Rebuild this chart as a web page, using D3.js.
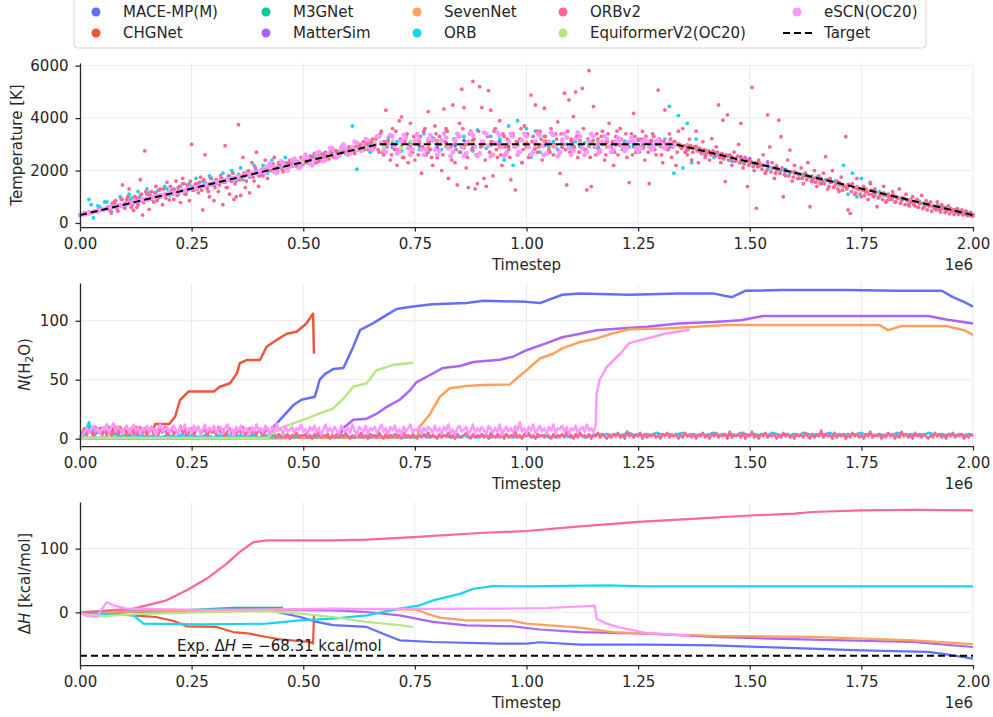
<!DOCTYPE html>
<html><head><meta charset="utf-8">
<script src="https://cdn.jsdelivr.net/npm/d3@7"></script>
<style>body{margin:0;background:#fff} svg text{font-family:"DejaVu Sans",sans-serif}</style>
</head><body><svg id="c" width="993" height="717"></svg>
<script>
// ---------------- DATA ----------------
const models = ["MACE-MP(M)","CHGNet","M3GNet","MatterSim","SevenNet","ORB","ORBv2","EquiformerV2(OC20)","eSCN(OC20)"];
const colors = ["#636EFA","#EF553B","#00CC96","#AB63FA","#FFA15A","#19D3F3","#FF6692","#B6E880","#FF97FF"];
const xTicks = [0, 0.25, 0.5, 0.75, 1.0, 1.25, 1.5, 1.75, 2.0];   // ×1e6 timesteps
const tempTicks = [0, 2000, 4000, 6000];
const nTicks = [0, 50, 100];
const hTicks = [0, 100];
const expDeltaH = -68.31;
const targetTemp = [[0, 300], [0.6667, 3000], [1.3333, 3000], [2.0, 300]];

// temperature samples (K); each set: model, first sample time, sampling interval (×1e6 timesteps)
const tempMACE = [310,400,430,570,600,730,760,900,920,1060, 1080,1230,1240,1390,1400,1550,1570,1710,1730,1870,
 1890,2040,2050,2200,2210,2360,2380,2520,2540,2690, 2700,2850,2860,3050,2950,3100,2920,3080,2940,3120,
 2900,3060,2950,3150,2880,3050,2970,3120,2910,3070, 2930,3100,2960,3040,2890,3130,2950,3060,2900,3090,
 2980,3110,2920,3050,2960,3120,2900,3010,2930,2840, 2760,2620,2600,2450,2520,2360,2290,2200,2110,2040,
 1950,1800,1790,1640,1630,1480,1470,1320,1300,1160, 1140,990,980,830,820,670,650,510,500,350, 310];
const tempCHGNet = [320,360,490,520,650,680,820,840,980,1000, 1140,1160,1300,1320,1470,1480,1630,1640,1790,1800, 1950,1970,2110,2120,2280,2290,2440];
const tempM3GNet = [280,410,440,580,600,740,770,900,930,1060, 1090,1220,1250,1380,1410,1540,1570,1700,1730,1860, 1890,2030,2050,2190];
const tempMatterSim = [290,370,480,530,640,690,800,850,970,1010, 1130,1170,1300,1330,1460,1500,1620,1660,1780,1820,
 1950,1980,2110,2140,2270,2300,2430,2460,2590,2620, 2760,2790,2920,2950,3080,2880,3150,2900,3100,2850,
 3130,2920,3080,2870,3160,2940,3060,2890,3140,2960, 3050,2880,3120,2940,3090,2870,3150,2920,3060,2900,
 3110,2950,3080,2900,3150,2930,3060,2980,2860,2920, 2700,2680,2540,2520,2400,2450,2310,2330,2180,1960,
 1960,1860,1730,1700,1580,1540,1400,1380,1240,1220, 1080,1060,920,900,760,740,600,580,440,420, 290];
const tempSevenNet = [300,390,450,560,610,720,780,880,940,1050, 1100,1210,1260,1370,1420,1530,1580,1700,1740,1860,
 1900,2020,2070,2180,2230,2350,2390,2510,2560,2670, 2720,2830,2900,2990,3070,2930,3110,2960,3040,2890,
 3090,2950,3130,2910,3060,2940,3100,2880,3050,2970, 3080,2920,3140,2950,3030,2900,3120,2960,3070,2910,
 3050,2940,3130,2890,3070,2960,3100,2950,2990,2880, 2730,2640,2580,2480,2420,2320,2270,2160,2120,1990,
 1940,1820,1770,1670,1610,1500,1450,1340,1290,1180, 1130,1020,970,860,810,700,660,540,490,370, 300];
const tempORB = [400,900,200,650,500,800,450,700,1000,600, 1100,750,1200,850,1300,950,1150,1000,1400,1050,
 1300,1100,1500,1250,1400,1700,1350,1550,1800,1450, 1500,1900,1700,2000,1600,2100,1850,1750,2200,1800,
 2200,1900,2400,2050,2300,2500,2150,2350,2250,2450, 2400,2550,2300,2650,2500,2700,2600,2550,2800,2700,
 3700,2050,2850,3200,2700,3000,3300,2800,3200,2900, 3100,2750,3300,2900,3150,2800,3400,2700,3250,3000,
 2800,3500,2900,3200,2700,3300,3000,2750,3550,3100, 2850,3300,3000,3200,2400,3700,2200,3900,2300,3600,
 2500,3500,2700,3300,2900,3100,2800,3200,3000,2950, 3100,2900,3050,3000,3150,2850,3000,3100,2900,3050,
 2950,3100,2900,3000,3150,2850,3050,2950,3100,3000, 3200,4450,1900,4100,2100,3800,2300,3200,2700,2600,
 2700,2500,2600,2450,2550,2350,2400,2300,2350,2250, 2250,2150,2200,2050,2100,2000,2000,1950,1900,1900,
 1850,1800,1800,1700,1750,1650,1650,1550,1600,1500, 2200,1100,1900,1000,1700,1200,1550,1050,1200,1100,
 1000,1050,950,900,900,850,800,800,750,700, 650,650,600,550,550,500,450,400,380,320];
const tempORBextra = [350,700,450,600,800,500,750,650,900,700, 950,800,1050,900,1150,1000,1250,1050,1300,1150,
 1200,1400,1250,1500,1350,1450,1600,1400,1700,1500, 1650,1550,1800,1700,1850,1650,1950,1800,2000,1900,
 2000,2150,1950,2200,2100,2300,2150,2350,2250,2400, 2350,2500,2450,2550,2500,2650,2600,2700,2650,2750,
 2800,2850,2900,2950,2900];
const tempORBv2 = [520,610,380,700,850,450,640,1450,560,900, 1300,600,480,980,700,1650,300,2750,1100,520,
 1200,800,1400,950,1300,700,1050,1550,880,1250, 900,1600,1350,780,1700,1100,1450,850,3000,1250,
 1500,1150,1750,500,2600,1300,1000,1450,850,1650, 1200,1800,700,2950,1350,1100,1600,900,1000,3750,
 1050,2500,1350,1900,1150,2300,1600,2700,1400,2000, 1800,2400,1700,2200,2000,2500,1900,2300,2100,1950,
 2250,2050,2400,2200,2450,2150,2300,2500,2250,2400, 2300,2550,2400,2650,2450,2350,2600,2500,2700,2450,
 2600,2800,2500,2750,2650,2900,2700,2850,2600,2800, 2850,2650,3000,2900,2750,3100,2950,2800,3050,3200,
 2900,3300,2700,3500,2600,4300,3100,2400,3600,2800, 2200,3900,4050,2500,3300,2300,3800,2700,2400,3400,
 3200,1900,3500,2600,4250,2800,2200,3700,2500,3300, 2000,4350,3600,1700,2900,4500,2300,1450,3800,5100,
 4400,2100,1350,3500,5400,1300,1500,5200,4400,1700, 1400,5050,4300,1800,3600,2500,3900,2200,3300,2700,
 2800,1650,3400,1260,2600,3200,2300,3700,2900,2500, 4880,3300,4500,2700,3500,2400,4380,3100,2800,3600,
 2600,3400,3860,1890,2900,4950,1450,4690,3200,4060, 5000,2500,3300,5130,2800,1260,5810,1390,4440,2600,
 3200,2700,3500,2400,3100,3800,2900,2200,3300,2600, 3600,2800,3000,2500,1540,3400,4180,2700,3200,2900,
 3500,2400,3100,1500,2800,3300,2600,5070,3000,2300, 4310,2800,3400,2500,3100,2200,3500,2900,3600,2700,
 2600,3200,2400,2900,3500,2300,2800,3100,2500,2700, 2400,3220,2700,2900,4500,2300,3920,1580,4120,2600,
 2200,2700,2400,3000,3800,2100,2500,1390,2300,5170, 2000,560,2400,2200,2600,1900,4120,2900,2300,1700,
 2100,3920,3290,1000,1800,2400,2780,1600,2200,1900, 1700,2100,1500,1900,2300,620,1600,2000,1400,1800,
 1500,1900,2530,1300,1700,2000,1400,1600,1200,1750, 1400,3290,500,370,1500,1100,1700,1300,1000,1400,
 1200,900,1500,1100,1300,620,1000,1130,1400,800, 1100,900,1200,800,1000,1300,850,950,1100,700,
 800,1000,650,900,750,1050,600,850,700,800, 650,550,800,500,700,600,450,650,550,500,
 450,550,400,500,350,450,300,400,280];
const tempORBv2extra = [600,480,750,820,550,700,900,650,780,1000, 850,700,1000,600,950,1100,780,1200,880,1050,
 1000,1150,850,1250,1050,1300,950,1150,1400,1100, 1250,1050,1400,1200,1500,1100,1350,1600,1250,1450,
 1300,1550,1250,1650,1400,1200,1700,1500,1350,1600, 1450,1700,1550,1350,1800,1600,1900,1500,1750,1650,
 1700,1900,1600,2000,1850,1750,2100,1900,1800,2050, 2050,1900,2150,2000,2250,2100,1950,2200,2050,2300,
 2150,2300,2250,2400,2200,2350,2150,2450,2300,2400, 2350,2500,2450,2300,2600,2500,2400,2650,2550,2450,
 2650,2550,2750,2700,2600,2850,2750,2650,2900,2800, 2750,2900,2850,3000,2950,2800,3050,2900,3100,3000,
 3200,2800,3400,2700,3100,2900,3300,2600,3000,3500, 2800,3200,2500,3100,3400,2900,2700,3300,3000,2600,
 3300,2900,3600,2700,3100,2500,3200,3400,2800,3000, 2600,3100,3500,2900,2400,3200,2800,3300,2700,3600,
 3000,2500,3400,2800,3200,2600,3500,2900,3100,2400, 3300,2700,3100,3500,2800,3000,2600,3400,2900,3200,
 2500,3300,2900,3100,2700,3600,2800,3000,3400,2600, 3100,2800,3500,2900,3200,2600,3300,3000,2700,3400,
 2900,3200,2600,3400,3000,2800,3500,2700,3100,2900, 3300,2700,3000,3600,2800,3200,2500,3100,2900,3400,
 2800,3300,3000,2600,3400,2900,3100,2700,3500,3000, 3200,2800,3400,2900,3100,2600,3300,3000,2700,3200,
 2900,3300,2700,3100,3400,2800,3000,3200,2600,3100, 3000,2800,3200,2900,3100,2700,3000,2850,2950,2750,
 2800,2950,2700,2900,2750,2850,2650,2800,2600,2750, 2600,2750,2550,2700,2500,2650,2450,2600,2400,2550,
 2450,2350,2550,2300,2450,2250,2400,2200,2350,2150, 2300,2150,2250,2050,2200,2000,2150,1950,2100,1900,
 2050,1900,2100,1850,2000,1800,1950,1750,1900,1700, 1850,1700,1800,1650,1750,1600,1700,1550,1650,1500,
 1600,1500,1650,1400,1550,1350,1500,1300,1450,1250, 1400,1300,1450,1200,1350,1150,1300,1100,1250,1050,
 1200,1100,1250,1000,1150,950,1100,900,1050,850, 1000,900,1050,800,950,750,900,700,850,650,
 800,700,850,600,750,550,700,500,650,450, 600,500,650,420,550,400,500,350,450,330,
 420,330,400,300,350,280,320,260];
const tempEquiformer = [300,380,470,540,630,700,790,860,950,1020, 1110,1200,1270,1360,1430,1520,1590,1680,1750,1850,
 1910,2010,2070,2170,2230,2330,2390,2490,2550,2650, 2720,2820,2880,3100,2900,3150,2880,3120];
const tempESCN = [300,330,330,370,390,390,430,450,460,490, 510,520,560,560,600,610,630,660,670,690,
 700,740,740,790,790,830,840,860,900,880, 920,930,960,990,990,1030,1040,1050,1090,1080,
 1120,1140,1160,1170,1200,1210,1240,1250,1270,1300, 1310,1340,1370,1380,1400,1420,1440,1470,1480,1500,
 1520,1550,1560,1590,1600,1620,1650,1660,1690,1700, 1720,1760,1780,1770,1820,1850,1830,1880,1920,1890,
 1930,1990,2000,1900,2150,2250,2150,1950,1900,2100, 2350,2300,2100,2000,2150,2400,2450,2300,2100,2150,
 2450,2600,2500,2250,2200,2400,2650,2700,2500,2350, 2400,2650,2850,2850,2600,2500,2600,2850,3000,2850,
 2650,2650,2900,3100,3050,2800,2750,2950,3200,3150, 2850,2800,3000,3300,3300,3050,2750,2700,3000,3350,
 3300,2950,2650,2750,3100,3350,3250,2850,2600,2800, 3150,3350,3200,2800,2600,2800,3200,3350,3150,2800,
 2600,2750,3150,3400,3250,2850,2550,2700,3150,3400, 3300,2900,2550,2650,3100,3450,3350,2900,2550,2650,
 3100,3450,3400,2950,2550,2600,3050,3450,3350,2900, 2550,2650,3100,3400,3300,2900,2600,2700,3150,3400,
 3300,2900,2600,2700,3100,3400,3350,2950,2600,2650, 3100,3450,3350,2900,2550,2700,3150,3400,3250,2850,
 2600,2750,3200,3450,3300,2850,2600,2700,3100,3400, 3300,2950,2650,2750,3100,3300,3200,2900,2700,2800,
 3100,3250,3150,2900,2750,2850,3100,3250,3100,2850, 2750,2850,3100,3200,3100,2900,2800,2900,3100,3150,
 3050,2900,2850,2950,3050,3000,2950];
const tempSets = [
  ["MACE-MP(M)", 0, 0.02, tempMACE], ["CHGNet", 0, 0.02, tempCHGNet], ["M3GNet", 0, 0.02, tempM3GNet],
  ["MatterSim", 0, 0.02, tempMatterSim], ["SevenNet", 0, 0.02, tempSevenNet],
  ["ORB", 0.01, 0.01, tempORB], ["ORB", 0.015, 0.01, tempORBextra],
  ["ORBv2", 0.06, 0.005, tempORBv2], ["ORBv2", 0.0625, 0.005, tempORBv2extra],
  ["EquiformerV2(OC20)", 0, 0.02, tempEquiformer], ["eSCN(OC20)", 0, 0.005, tempESCN]
];

// N(H2O): fluctuating stretches sampled at fixed interval, then [t, N] pairs
const nNoiseStep = {"CHGNet": 0.005, "ORB": 0.01, "ORBv2": 0.005, "eSCN(OC20)": 0.005};
const nNoiseCHGNet = [0,5,9,3,8,6,10,4,7,9,5,8,3,10,6,9,4,7,10,5,8,6,3,9,7,10,4,8,6,9,5,7,10,8];
const nNoiseORB = [0,3,14,2,6,5,12,3,4,2,3,1,4,2,3,1,2,3,1,2, 3,1,2,4,1,3,2,1,3,2,1,3,2,4,1,2,3,1,2,3,
 1,2,3,1,2,1,3,2,1,2,3,1,2,1,3,2,1,2,1,3, 2,1,3,1,2,1,2,3,1,2,1,3,2,1,2,1,3,2,1,2,
 1,3,2,1,2,1,3,1,2,1,2,3,1,2,1,3,2,1,2,1, 3,2,1,2,3,1,2,1,3,2,1,2,3,1,2,3,4,3,4,3,
 4,3,4,5,3,4,3,4,3,5,4,3,4,3,4,5,3,4,3,4, 3,4,5,3,4,3,4,3,5,4,3,4,3,4,3,5,4,3,4,3,
 4,3,5,4,3,4,3,4,5,3,4,3,4,3,4,5,3,4,3,4, 3,4,3,5,4,3,4,3,4,3,5,4,3,4,3,4,3,4,3,4, 3];
const nNoiseORBv2 = [0,4,8,3,9,6,2,10,5,7,3,9,4,8,2,6,10,3,7,5, 8,2,6,9,4,7,3,10,5,8,2,6,9,4,7,3,8,5,10,2,
 6,9,3,7,4,11,5,8,2,6,9,3,7,10,4,6,8,2,9,5, 7,3,10,5,8,2,6,9,4,7,3,8,5,10,2,6,9,4,7,3,
 8,5,2,6,9,3,7,4,1,4,2,3,1,4,0,3,2,5,1,3, 2,4,1,3,0,4,2,5,1,3,2,4,0,3,1,4,2,3,1,5,
 2,0,3,1,4,2,5,1,3,0,4,2,3,1,5,2,0,4,1,3, 2,4,1,3,0,5,2,3,1,4,2,0,3,1,4,2,5,1,3,2,
 0,4,1,3,2,5,1,3,0,4,2,1,3,5,2,0,4,1,3,2, 4,1,3,0,5,2,1,4,2,3,0,4,1,3,2,6,1,3,0,4,
 2,5,1,3,0,4,2,3,1,5,2,0,4,1,3,2,4,1,6,2, 3,0,4,1,5,2,3,1,4,0,3,2,5,1,4,2,0,3,1,4,
 2,5,1,3,0,6,2,4,1,3,2,5,0,4,1,3,2,4,1,3, 0,4,2,5,1,3,2,4,0,3,1,5,2,3,1,4,0,3,2,5,
 1,3,0,4,2,5,1,3,2,4,0,6,1,3,2,4,1,5,0,3, 2,6,1,3,0,4,2,5,1,3,2,4,0,3,1,5,2,4,1,3,
 0,4,2,3,1,5,2,0,4,1,3,2,7,1,4,2,3,0,5,1, 3,2,4,0,3,1,5,2,4,1,3,0,4,2,6,1,3,2,4,0,
 3,1,5,2,4,0,3,1,6,2,4,1,3,0,5,2,3,1,4,2, 0,3,1,5,2,4,1,3,0,4,2,5,1,3,2,4,0,3,1,4, 2];
const nNoiseESCN = [0,3,6,9,5,8,11,6,9,4,10,7,12,5,9,13,6,10,8,4, 9,11,5,8,12,6,10,4,9,7,11,5,10,8,3,9,12,6,8,10,
 5,9,11,7,4,10,8,12,6,9,5,11,7,10,3,8,12,6,9,7, 11,5,8,10,4,9,12,6,8,3,10,7,11,5,9,8,4,10,6,12,
 7,9,5,11,8,4,10,6,13,7,9,3,11,6,8,10,5,9,7,12, 6,8,4,10,7,11,5,9,3,8,12,6,9,5,10,7,4,11,8,6,
 9,5,12,7,3,10,8,6,11,4,9,7,10,5,8,12,6,9,4,10, 7,11,5,8,3,10,6,9,12,5,8,7,11,4,9,6,10,8,5,11,
 6,9,4,10,7,12,5,8,3,9,11,6,8,10,4,7,12,5,9,6, 10,7,4,11,8,5,9,6,12,3,8,10,6,9,5,11,7,14,6,9,
 4,10,7,12,5,8,11,6,9,4,10,7,12,5,9,8,11,6,10,4, 9,7,11,5,8,10,6,12,7,9,5];
const nMACE = [[0,0],[0.02,0.5],[0.43,1],[0.433,10],[0.455,19],[0.478,28.5],[0.496,33],[0.526,35.6],[0.537,50],[0.549,55],[0.567,59],[0.59,60],[0.612,78],[0.627,92],[0.657,98],[0.687,105],[0.709,110],[0.746,112],[0.79,114],[0.866,115],[0.903,117],[1.0,116],[1.03,115],[1.08,122],[1.12,123],[1.23,122],[1.34,123],[1.42,123],[1.46,120],[1.49,125.4],[1.57,126],[1.72,126],[1.83,125.4],[1.93,125.4],[1.955,120],[1.98,116],[2.0,112]];
const nCHGNet = [[0.168,12.4],[0.2,12.4],[0.213,18.6],[0.224,32.8],[0.243,40],[0.3,40],[0.313,44],[0.336,47],[0.351,55],[0.358,64],[0.373,66.7],[0.403,66.7],[0.418,78],[0.44,83.6],[0.463,89],[0.485,90.7],[0.507,97.7],[0.522,106],[0.524,72]];
const nM3GNet = [[0,0],[0.02,0.5],[0.46,0.5]];
const nMatterSim = [[0,0],[0.58,1],[0.59,9],[0.612,16],[0.642,17],[0.664,21],[0.687,27],[0.716,33],[0.739,41],[0.754,48],[0.784,54],[0.813,60],[0.851,61.6],[0.881,65],[0.94,67],[0.97,69.5],[1.0,75],[1.045,81],[1.08,86],[1.12,89],[1.157,92],[1.21,93.5],[1.27,95],[1.34,97.7],[1.42,99],[1.48,100.5],[1.53,104],[1.64,104],[1.79,104],[1.9,104],[1.94,101],[2.0,97.7]];
const nSevenNet = [[0,0],[0.755,1],[0.761,10],[0.784,21],[0.806,35.6],[0.828,42.7],[0.866,44.6],[0.903,45.5],[0.963,46],[0.978,51],[1.0,58],[1.03,68],[1.06,72],[1.08,76.6],[1.12,82],[1.157,85],[1.19,89],[1.23,92.7],[1.31,93.5],[1.38,95],[1.45,96.3],[1.79,96.3],[1.81,92],[1.84,95.5],[1.94,95.5],[1.98,92],[2.0,88]];
const nEquiformer = [[0,0],[0.02,0.5],[0.42,0.5],[0.425,3],[0.455,10],[0.478,13],[0.507,17],[0.537,21.5],[0.567,25.7],[0.59,34],[0.612,44],[0.642,47],[0.664,58],[0.7,62.4],[0.746,64.4]];
const nESCN = [[1.155,12],[1.157,38],[1.164,50],[1.18,61],[1.21,72],[1.23,81],[1.27,85],[1.31,89],[1.366,92.6]];

// ΔH [kcal/mol]: [t, ΔH] pairs
const hMACE = [[0,0],[0.194,2],[0.343,4.7],[0.418,4],[0.493,-7.3],[0.53,-15],[0.567,-20],[0.642,-23],[0.687,-36],[0.716,-44],[0.79,-46.6],[0.94,-49],[1.0,-49],[1.03,-47],[1.12,-50.8],[1.27,-50.8],[1.42,-51.8],[1.57,-55.5],[1.75,-59.6],[1.9,-62],[1.94,-66],[2.0,-72.7]];
const hCHGNet = [[0,0],[0.045,-1],[0.12,-4.7],[0.17,-7.3],[0.21,-13.6],[0.239,-22],[0.306,-23],[0.343,-31],[0.38,-33.5],[0.418,-38.7],[0.455,-43],[0.515,-46.6],[0.522,-49],[0.524,-4.7]];
const hM3GNet = [[0,0],[0.194,2],[0.343,7],[0.455,7]];
const hMatterSim = [[0,0],[0.343,4.2],[0.567,3],[0.642,0.5],[0.716,-4.7],[0.79,-15],[0.866,-20.4],[0.97,-22],[1.03,-27],[1.12,-31],[1.27,-33.5],[1.42,-38.7],[1.64,-43],[1.866,-46.6],[2.0,-54.4]];
const hSevenNet = [[0,0],[0.567,5.8],[0.754,4],[0.776,-2],[0.806,-8.4],[0.866,-12.6],[0.963,-12.6],[1.0,-17.8],[1.12,-24],[1.194,-31],[1.27,-33.5],[1.42,-37],[1.64,-38.7],[1.866,-44],[2.0,-50]];
const hORB = [[0,0],[0.045,-2],[0.12,-4.7],[0.142,-17.8],[0.27,-18.8],[0.418,-17.8],[0.493,-12.6],[0.567,-10],[0.642,-4.7],[0.716,5.8],[0.761,11],[0.791,18.8],[0.851,29],[0.881,37],[0.925,41],[1.0,40.8],[1.18,42.4],[1.27,40.8],[2.0,40.8]];
const hORBv2 = [[0,0],[0.12,5.8],[0.194,18.8],[0.239,34.6],[0.284,53],[0.328,76],[0.358,95],[0.388,110],[0.418,113],[0.567,113],[0.642,114],[0.746,118],[0.896,124.5],[1.0,127.7],[1.12,135],[1.25,142],[1.38,147],[1.5,152],[1.6,155],[1.64,157.5],[1.75,160],[1.866,161],[2.0,160]];
const hEquiformer = [[0,-2],[0.045,-6.3],[0.12,-3],[0.27,0],[0.418,2],[0.493,-2],[0.567,-7.3],[0.642,-15],[0.716,-20],[0.746,-23]];
const hESCN = [[0,0],[0.015,-6],[0.037,-7.3],[0.06,16],[0.075,11],[0.104,5.8],[0.27,4],[0.567,5],[0.94,5.8],[1.045,6.8],[1.153,10],[1.157,-10],[1.18,-17.8],[1.21,-24],[1.27,-32.4],[1.366,-36.6]];

// ---------------- BUILD ----------------
const noiseOf = {"CHGNet": nNoiseCHGNet, "ORB": nNoiseORB, "ORBv2": nNoiseORBv2, "eSCN(OC20)": nNoiseESCN};
const nKnots = [nMACE,nCHGNet,nM3GNet,nMatterSim,nSevenNet,[],[],nEquiformer,nESCN];
const hData = [hMACE,hCHGNet,hM3GNet,hMatterSim,hSevenNet,hORB,hORBv2,hEquiformer,hESCN];
const colorOf = m => colors[models.indexOf(m)];

const svg = d3.select("#c");
const FONT = "'DejaVu Sans', sans-serif";
const INK = "#262626";
const x = d3.scaleLinear().domain([0, 2]).range([80, 973]);
const panels = [
  {top: 63, bottom: 227, y: d3.scaleLinear().domain([-153, 6102]).range([227, 63]), ticks: tempTicks},
  {top: 283, bottom: 446, y: d3.scaleLinear().domain([-6.2, 132]).range([446, 283]), ticks: nTicks},
  {top: 502, bottom: 665, y: d3.scaleLinear().domain([-82.7, 173.2]).range([665, 502]), ticks: hTicks}
];

function grid(p) {
  const g = svg.append("g");
  g.selectAll("line.v").data(xTicks).join("line").attr("class","v")
    .attr("x1", d => x(d)).attr("x2", d => x(d)).attr("y1", p.top).attr("y2", p.bottom)
    .attr("stroke", "#ebebeb").attr("stroke-width", 1);
  g.selectAll("line.h").data(p.ticks).join("line").attr("class","h")
    .attr("x1", 80).attr("x2", 973).attr("y1", d => p.y(d)).attr("y2", d => p.y(d))
    .attr("stroke", "#ebebeb").attr("stroke-width", 1);
}
function axes(p, fmt) {
  const gx = svg.append("g").attr("transform", `translate(0,${p.bottom})`)
    .call(d3.axisBottom(x).tickValues(xTicks).tickFormat(d3.format(".2f")).tickSize(4.5).tickPadding(7).tickSizeOuter(0));
  const gy = svg.append("g").attr("transform", `translate(80,0)`)
    .call(d3.axisLeft(p.y).tickValues(p.ticks).tickFormat(fmt).tickSize(4.5).tickPadding(7).tickSizeOuter(0));
  for (const g of [gx, gy]) {
    g.attr("font-family", FONT).attr("font-size", 15);
    g.select(".domain").attr("stroke", INK).attr("stroke-width", 1.25);
    g.selectAll(".tick line").attr("stroke", INK).attr("stroke-width", 1.25);
    g.selectAll(".tick text").attr("fill", INK);
  }
  svg.append("text").attr("x", 526.5).attr("y", p.bottom + 43).attr("text-anchor", "middle")
    .attr("font-size", 15).attr("fill", INK).text("Timestep");
  svg.append("text").attr("x", 973).attr("y", p.bottom + 43).attr("text-anchor", "end")
    .attr("font-size", 15).attr("fill", INK).text("1e6");
}
const line = (y) => d3.line().x(d => x(d[0])).y(d => y(d[1]));

// ---- Panel 1: temperature ----
{
  const p = panels[0];
  grid(p);
  tempSets.forEach(([m, t0, dt, vals]) => {
    const pts = vals.map((v, k) => [t0 + k * dt, v]);
    svg.append("g").selectAll("circle").data(pts).join("circle")
      .attr("cx", d => x(d[0])).attr("cy", d => p.y(d[1]))
      .attr("r", m === "eSCN(OC20)" ? 2.4 : 1.9).attr("fill", colorOf(m));
  });
  svg.append("path").attr("d", line(p.y)(targetTemp)).attr("fill", "none")
    .attr("stroke", "#000").attr("stroke-width", 2).attr("stroke-dasharray", "7,4");
  axes(p, d3.format("d"));
  svg.append("text").attr("transform", `translate(17,${(p.top + p.bottom) / 2}) rotate(-90)`)
    .attr("text-anchor", "middle").attr("dy", "0.35em").attr("font-size", 15).attr("fill", INK).text("Temperature [K]");
}

// ---- Panel 2: N(H2O) ----
{
  const p = panels[1];
  grid(p);
  models.forEach((m, i) => {
    let pts = [];
    if (noiseOf[m]) pts = noiseOf[m].map((v, k) => [k * nNoiseStep[m], v]);
    pts = pts.concat(nKnots[i]);
    svg.append("path").attr("d", line(p.y)(pts)).attr("fill", "none")
      .attr("stroke", colors[i]).attr("stroke-width", 2.5).attr("stroke-linejoin", "round");
  });
  axes(p, d3.format("d"));
  const t = svg.append("text").attr("transform", `translate(25,${(p.top + p.bottom) / 2}) rotate(-90)`)
    .attr("text-anchor", "middle").attr("dy", "0.35em").attr("font-size", 15).attr("fill", INK);
  t.append("tspan").attr("font-style", "italic").text("N");
  t.append("tspan").text("(H");
  t.append("tspan").attr("font-size", 10.5).attr("dy", 3).text("2");
  t.append("tspan").attr("dy", -3).text("O)");
}

// ---- Panel 3: ΔH ----
{
  const p = panels[2];
  grid(p);
  models.forEach((m, i) => {
    svg.append("path").attr("d", line(p.y)(hData[i])).attr("fill", "none")
      .attr("stroke", colors[i]).attr("stroke-width", 2.2).attr("stroke-linejoin", "round");
  });
  svg.append("path").attr("d", line(p.y)([[0, expDeltaH], [2, expDeltaH]])).attr("fill", "none")
    .attr("stroke", "#000").attr("stroke-width", 2).attr("stroke-dasharray", "7,4");
  const a = svg.append("text").attr("x", 177).attr("y", p.y(expDeltaH) - 5).attr("font-size", 15).attr("fill", "#1a1a1a");
  a.append("tspan").text("Exp. Δ");
  a.append("tspan").attr("font-style", "italic").text("H");
  a.append("tspan").text(" = −" + Math.abs(expDeltaH).toFixed(2) + " kcal/mol");
  axes(p, d3.format("d"));
  const t = svg.append("text").attr("transform", `translate(25,${(p.top + p.bottom) / 2}) rotate(-90)`)
    .attr("text-anchor", "middle").attr("dy", "0.35em").attr("font-size", 15).attr("fill", INK);
  t.append("tspan").text("Δ");
  t.append("tspan").attr("font-style", "italic").text("H");
  t.append("tspan").text(" [kcal/mol]");
}

// ---- Legend ----
{
  const g = svg.append("g");
  g.append("rect").attr("x", 74).attr("y", -3).attr("width", 852).attr("height", 51).attr("rx", 4)
    .attr("fill", "#fff").attr("fill-opacity", 0.85).attr("stroke", "#d4d4d4").attr("stroke-width", 1);
  const colX = [96, 266, 417, 563, 797];
  const rowY = [12, 33];
  const entries = models.map((m, i) => ({label: m, color: colors[i], kind: "dot"}))
    .concat([{label: "Target", color: "#000", kind: "dash"}]);
  entries.forEach((e, k) => {
    const cx = colX[Math.floor(k / 2)], cy = rowY[k % 2];
    if (e.kind === "dot") g.append("circle").attr("cx", cx).attr("cy", cy).attr("r", 4.5).attr("fill", e.color);
    else g.append("line").attr("x1", cx - 14).attr("x2", cx + 16).attr("y1", cy).attr("y2", cy)
      .attr("stroke", "#000").attr("stroke-width", 2).attr("stroke-dasharray", "7,4");
    g.append("text").attr("x", cx + 27).attr("y", cy).attr("dy", "0.35em").attr("font-size", 15)
      .attr("fill", INK).text(e.label);
  });
}
</script></body></html>
